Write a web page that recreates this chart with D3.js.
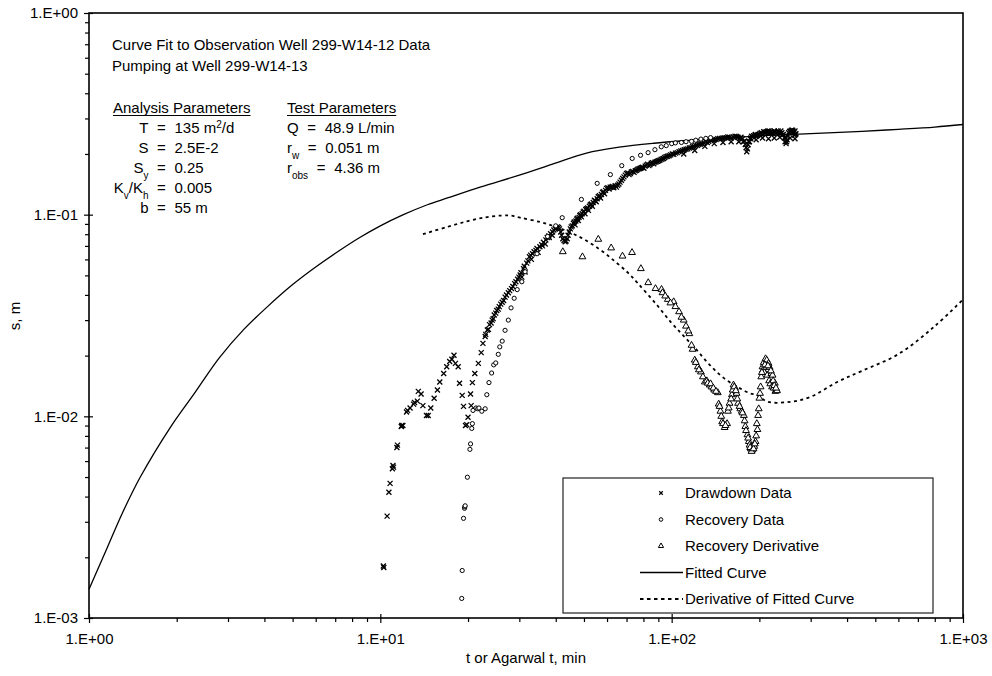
<!DOCTYPE html>
<html><head><meta charset="utf-8">
<script src="https://cdn.jsdelivr.net/npm/d3@7"></script>
<style>
body{margin:0;background:#fff;}
svg text{font-family:Arial,"Liberation Sans",sans-serif;font-size:15px;fill:#000;}
</style>
</head><body>
<svg id="c" width="992" height="676"></svg>
<script>
// ---------- data ----------
const xTickValues = [1, 10, 100, 1000];
const xTickLabels = ["1.E+00", "1.E+01", "1.E+02", "1.E+03"];
const yTickValues = [0.001, 0.01, 0.1, 1];
const yTickLabels = ["1.E-03", "1.E-02", "1.E-01", "1.E+00"];

// drawdown data (early part + main band)
const drawdownT = [10.24,10.28,10.55,10.7,10.8,11.0,11.05,11.1,11.4,11.45,11.8,11.85,11.95,12.3,12.4,12.65,13.0,13.1,13.4,13.5,13.8,14.0,14.4,14.6,14.9,15.3,15.7,16.0,16.5,16.9,17.3,17.6,17.9,18.1,18.5,18.7,19.1,19.3,19.6,19.8,20.0,20.4,20.5,20.7,21.1,21.7,22.2,22.5,22.9,23.3,23.7,24.2,24.6,25.1,25.6,26.2,26.8,27.5,28.2,28.9,29.6,30.2,30.6,31.0,31.4,31.8,32.5,33.0,33.3,34.2,34.8,35.3,36.3,36.8,37.4,38.4,38.9,39.4,40.2,40.9,41.6,42.3,43.1,43.8,44.5,45.2,46.0,46.6,47.2,47.8,48.4,49.0,49.7,50.4,51.1,51.8,52.6,53.4,54.3,55.1,56.0,57.0,57.9,58.8,59.8,61.0,62.1,63.3,64.6,65.9,67.2,68.6,70.0,71.4,72.8,74.3,75.8,77.3,78.8,80.3,81.9,83.5,85.1,86.8,88.5,90.2,92.0,93.8,95.7,98.0,100.5,103,106,109,112,115,118,121,124,127,131,134,138,142,146,150,154,158,163,167,172,175,178,180,181,182,183,186,188,190,193,195,198,200,203,205,208,211,214,217,220,223,226,229,232,236,239,242,245,247,249,252,255,257,260,262,264,266,110,120,130,140,150,160,170,185,195,205,215,225,235,245,255,265];
const drawdownS = [.00181,.00178,.0032,.0042,.00465,.0055,.0057,.0056,.0070,.0072,.0089,.0090,.0090,.0105,.0107,.0110,.0115,.0117,.0119,.0133,.0129,.0113,.0101,.0101,.0110,.0123,.0135,.0148,.0163,.0176,.0187,.0192,.0201,.0183,.0176,.0146,.0127,.0112,.0090,.0091,.0099,.0129,.0113,.0147,.0163,.0183,.0207,.0230,.0249,.0268,.0285,.0300,.0318,.0335,.0350,.0368,.0390,.0410,.0430,.0455,.0478,.0502,.0490,.0540,.0520,.0575,.0618,.0600,.0640,.0665,.0650,.0693,.0730,.0715,.0770,.0805,.0790,.0839,.0855,.0864,.0820,.0760,.0734,.0760,.0820,.0870,.0906,.0890,.0950,.0935,.0990,.0975,.1030,.1010,.1070,.1050,.1120,.1100,.1180,.1160,.1227,.1210,.1290,.1270,.1350,.1340,.1370,.1360,.1370,.1420,.1480,.1540,.1600,.1580,.1630,.1620,.1660,.1690,.1710,.1700,.1760,.1750,.1800,.1790,.1830,.1850,.1880,.1900,.1940,.1960,.2000,.2020,.2050,.2080,.2110,.2140,.2170,.2200,.2230,.2250,.2300,.2310,.2350,.2360,.2390,.2400,.2410,.2420,.2420,.2440,.2400,.2380,.2320,.2150,.2050,.2120,.2220,.2380,.2450,.2430,.2480,.2450,.2500,.2500,.2550,.2520,.2560,.2580,.2600,.2550,.2570,.2530,.2580,.2560,.2600,.2520,.2550,.2500,.2300,.2250,.2350,.2550,.2600,.2580,.2620,.2550,.2480,.2500,.2000,.2080,.2180,.2250,.2280,.2300,.2300,.2300,.2350,.2400,.2380,.2400,.2420,.2420,.2400,.2380];
// drawdown data (additional readings inside the dense band)
const drawdownT2 = [23.0,23.5,24.0,24.4,24.9,25.4,25.9,26.5,27.1,27.8,28.5,29.2,29.9,30.4,31.2,32.1,32.8,33.7,34.5,35.8,36.0,37.0,37.9,38.0,39.0,39.8,40.5,41.2,41.9,42.7,43.4,44.1,44.9,45.6,46.3,46.9,47.5,48.1,48.7,49.3,50.0,50.7,51.5,52.2,53.0,53.8,54.7,55.5,56.5,57.4,58.3,59.3,60.4,61.5,62.7,64.0,65.2,66.5,67.9,69.3,70.7,72.1,73.5,75.0,76.5,78.0,79.5,81.1,82.7,84.3,86.0,87.6,89.3,91.1,92.9,94.7,96.8,99.2,101.7,104.5,107.5,110.5,113.5,116.5,119.5,122.5,125.5,129,132.5,136,140,144,148,152,156,160,165,169,173,176,179,184,187,191,194,197,201,204,207,210,213,216,219,222,225,228,231,234,237,240,244,248,251,254,258,261,263,265,267];
const drawdownS2 = [.0255,.0270,.0290,.0305,.0325,.0340,.0360,.0375,.0400,.0420,.0440,.0465,.0490,.0515,.0555,.0590,.0630,.0655,.0680,.0710,.0700,.0750,.0785,.0770,.0820,.0850,.0870,.0850,.0790,.0745,.0740,.0790,.0850,.0880,.0920,.0930,.0960,.0970,.1000,.1010,.1040,.1060,.1080,.1100,.1130,.1150,.1170,.1200,.1240,.1260,.1300,.1320,.1360,.1370,.1380,.1390,.1400,.1450,.1510,.1570,.1610,.1600,.1640,.1650,.1680,.1700,.1720,.1740,.1780,.1770,.1810,.1820,.1840,.1860,.1890,.1920,.1950,.1980,.1990,.2030,.2070,.2100,.2120,.2150,.2180,.2210,.2240,.2270,.2280,.2330,.2350,.2380,.2390,.2400,.2430,.2400,.2450,.2420,.2420,.2300,.2230,.2300,.2400,.2460,.2500,.2470,.2530,.2500,.2580,.2550,.2570,.2600,.2540,.2560,.2600,.2540,.2580,.2550,.2600,.2480,.2400,.2300,.2450,.2580,.2620,.2590,.2560,.2600,.2520];

const recoveryT = [19.03,19.1,19.3,19.45,19.5,19.55,19.9,20.3,20.4,20.6,20.7,20.8,21.3,21.6,21.8,22.3,22.9,23.2,23.6,24.1,24.5,24.9,25.4,25.7,26.2,26.8,27.5,28.1,28.8,29.5,30.6,31.4,34.5,37.5,40.0,42.1,49.0,55.5,61.6,67.4,73.2,78.2,83.0,87.6,92.1,95.8,100,103,108,112,117,121,126,131,136];
const recoveryS = [.00125,.00172,.00312,.0035,.00356,.0036,.00499,.00686,.0073,.00871,.0092,.0107,.0110,.0109,.0110,.0106,.0109,.0128,.0147,.0164,.0180,.0184,.0203,.0221,.0236,.0267,.0300,.0345,.0385,.0425,.0465,.0521,.0640,.0780,.0880,.0966,.119,.143,.158,.175,.190,.197,.203,.210,.217,.220,.225,.227,.228,.230,.231,.234,.237,.239,.241];

const derivT = [42.3,49.4,56.0,62.0,67.8,73.1,78.4,83.1,88,92.3,97,101.6,106,110,115,118,120,123,126,130,132,135,137,140,144,145,147,149,152,155,156,158,161,163,165,167,169,172,174,177,179,182,184,187,189,190,192,194,197,198,199,200,202,203,205,206,207,208,210,211,212,213,215,216,217,218,220,221,222,224,226,227,229,230];
const derivS = [.0655,.0618,.0755,.0684,.0623,.0649,.054,.046,.043,.0426,.038,.037,.033,.030,.0257,.0215,.019,.0176,.0166,.0148,.0150,.0143,.0140,.0135,.0131,.0115,.0106,.0094,.0088,.0092,.0106,.0116,.0128,.0143,.0138,.0130,.0116,.0109,.0106,.0101,.0089,.0081,.0075,.0069,.0068,.0070,.0071,.0075,.0086,.0101,.0109,.0123,.0140,.0157,.0176,.0170,.0185,.0165,.0193,.0175,.0190,.0160,.0183,.0150,.0175,.0145,.0163,.0140,.0160,.0138,.0146,.0133,.0135,.0134];
const derivT2 = [93,95,99,103,108,112,114,117,121,124,128,133,136,139,142,146,148,150,153,157,160,162,164,166,168,171,175,178,180,183,185,186,188,191,193,195,196,201,204,209,214,219,223,225,228];
const derivS2 = [.041,.0395,.0365,.035,.031,.028,.0265,.0225,.0185,.017,.0157,.0146,.0145,.0138,.0133,.0112,.0100,.0092,.0090,.0110,.0122,.0135,.0140,.0134,.0122,.0112,.0104,.0095,.0085,.0078,.0072,.0070,.0067,.0069,.0073,.0080,.0092,.0130,.0165,.0180,.0178,.0168,.0150,.0142,.0138];

const fitT = [1,1.15,1.3,1.5,1.9,2.3,2.8,3.4,4.1,5.0,6.0,7.2,8.5,10,12,14.5,17,22,30,39,51,66,87,112,150,200,300,450,600,800,1000];
const fitS = [.00139,.0022,.0033,.0050,.0088,.013,.0195,.027,.035,.045,.055,.066,.077,.088,.100,.112,.121,.137,.157,.178,.202,.216,.226,.233,.240,.246,.252,.259,.265,.272,.280];

const fitDerivT = [14,17,20,23,26,28,30.2,35.3,40.1,48.3,56.7,63.9,71,76.6,88.5,100,110,122,135,150,171,186,196,214,255,300,370,450,602,800,1000];
const fitDerivS = [.080,.087,.093,.097,.099,.099,.0966,.092,.087,.0776,.0672,.0586,.0513,.0456,.036,.029,.025,.0213,.018,.0156,.0138,.013,.01275,.0118,.0118,.0125,.0148,.0168,.0204,.028,.038];

const legendLabels = ["Drawdown Data","Recovery Data","Recovery Derivative","Fitted Curve","Derivative of Fitted Curve"];

// ---------- chart ----------
const svg = d3.select("#c");
const L = 89, R = 963, T = 13, B = 618;
const x = d3.scaleLog().domain([1, 1000]).range([L, R]);
const y = d3.scaleLog().domain([0.001, 1]).range([B, T]);

const xMinor = [], yMinor = [];
[1, 10, 100].forEach(d => { for (let k = 2; k <= 9; k++) xMinor.push(d * k); });
[0.001, 0.01, 0.1].forEach(d => { for (let k = 2; k <= 9; k++) yMinor.push(d * k); });

function clean(g){ g.select(".domain").remove(); g.selectAll("line").attr("stroke","#000").attr("stroke-width",1.2); g.selectAll("text").attr("font-size",15).attr("font-family","Arial, 'Liberation Sans', sans-serif"); }

svg.append("g").attr("transform",`translate(0,${B})`)
  .call(d3.axisBottom(x).tickValues(xTickValues).tickFormat((d,i)=>xTickLabels[i]).tickSize(5).tickPadding(10)).call(clean);
svg.append("g").attr("transform",`translate(0,${B})`)
  .call(d3.axisTop(x).tickValues(xTickValues).tickFormat("").tickSize(4)).call(clean);
svg.append("g").attr("transform",`translate(0,${B})`)
  .call(d3.axisBottom(x).tickValues(xMinor).tickFormat("").tickSize(4)).call(clean);

svg.append("g").attr("transform",`translate(${L},0)`)
  .call(d3.axisLeft(y).tickValues(yTickValues).tickFormat((d,i)=>yTickLabels[i]).tickSize(5).tickPadding(6)).call(clean);
svg.append("g").attr("transform",`translate(${L},0)`)
  .call(d3.axisRight(y).tickValues(yTickValues).tickFormat("").tickSize(4)).call(clean);
svg.append("g").attr("transform",`translate(${L},0)`)
  .call(d3.axisLeft(y).tickValues(yMinor).tickFormat("").tickSize(4)).call(clean);

// curves
const line = d3.line().x(d=>x(d[0])).y(d=>y(d[1])).curve(d3.curveCatmullRom.alpha(0.5));
svg.append("path").attr("d", line(fitT.map((t,i)=>[t,fitS[i]])))
  .attr("fill","none").attr("stroke","#000").attr("stroke-width",1.3);
svg.append("path").attr("d", line(fitDerivT.map((t,i)=>[t,fitDerivS[i]])))
  .attr("fill","none").attr("stroke","#000").attr("stroke-width",1.8).attr("stroke-dasharray","3,3.5");

// markers
const cross = d3.symbol().type(d3.symbolX).size(18);
const tri = d3.symbol().type(d3.symbolTriangle).size(20);
const ddPts = drawdownT.map((t,i)=>[t,drawdownS[i]]).concat(drawdownT2.map((t,i)=>[t,drawdownS2[i]]));
const dvPts = derivT.map((t,i)=>[t,derivS[i]]).concat(derivT2.map((t,i)=>[t,derivS2[i]]));
svg.append("g").selectAll("path").data(ddPts).join("path")
  .attr("d", cross).attr("transform", d=>`translate(${x(d[0])},${y(d[1])})`)
  .attr("fill","none").attr("stroke","#000").attr("stroke-width",1.3);
svg.append("g").selectAll("circle").data(recoveryT.map((t,i)=>[t,recoveryS[i]])).join("circle")
  .attr("cx", d=>x(d[0])).attr("cy", d=>y(d[1])).attr("r",2.1)
  .attr("fill","#fff").attr("stroke","#000").attr("stroke-width",1);
svg.append("g").selectAll("path").data(dvPts).join("path")
  .attr("d", tri).attr("transform", d=>`translate(${x(d[0])},${y(d[1])})`)
  .attr("fill","#fff").attr("stroke","#000").attr("stroke-width",1);

// frame
svg.append("rect").attr("x",L).attr("y",T).attr("width",R-L).attr("height",B-T)
  .attr("fill","none").attr("stroke","#000").attr("stroke-width",1.6);

// legend
const lg = svg.append("g");
lg.append("rect").attr("x",563).attr("y",478).attr("width",370).attr("height",135)
  .attr("fill","#fff").attr("stroke","#222").attr("stroke-width",1.2);
const rowY = [493, 519.5, 546, 572.5, 599];
legendLabels.forEach((lab,i)=>{
  lg.append("text").attr("x",685).attr("y",rowY[i]+5).text(lab);
});
lg.append("path").attr("d", d3.symbol().type(d3.symbolX).size(10)).attr("transform",`translate(661,${rowY[0]})`)
  .attr("fill","none").attr("stroke","#000").attr("stroke-width",1.2);
lg.append("circle").attr("cx",661).attr("cy",rowY[1]).attr("r",1.8).attr("fill","#fff").attr("stroke","#000");
lg.append("path").attr("d", d3.symbol().type(d3.symbolTriangle).size(12)).attr("transform",`translate(661,${rowY[2]})`)
  .attr("fill","#fff").attr("stroke","#000");
lg.append("line").attr("x1",640).attr("x2",683).attr("y1",rowY[3]).attr("y2",rowY[3]).attr("stroke","#000").attr("stroke-width",1.3);
lg.append("line").attr("x1",640).attr("x2",683).attr("y1",rowY[4]).attr("y2",rowY[4]).attr("stroke","#000").attr("stroke-width",1.8).attr("stroke-dasharray","3.5,3.5");

// axis titles
svg.append("text").attr("x",(L+R)/2).attr("y",663).attr("text-anchor","middle").text("t or Agarwal t, min");
svg.append("text").attr("transform","translate(20,316) rotate(-90)").attr("text-anchor","middle").text("s, m");

// annotations
const ann = svg.append("g");
function txt(xp, yp, parts, anchor){
  const t = ann.append("text").attr("x",xp).attr("y",yp).attr("text-anchor",anchor||"start");
  parts.forEach(p=>{
    if (typeof p === "string") t.append("tspan").text(p);
    else t.append("tspan").attr("font-size",10).attr("baseline-shift", p.sup ? "super" : "sub").text(p.t);
  });
  return t;
}
txt(112, 50, ["Curve Fit to Observation Well 299-W14-12 Data"]);
txt(112, 71, ["Pumping at Well 299-W14-13"]);
const h1 = txt(113, 113, ["Analysis Parameters"]);
const h2 = txt(287, 113, ["Test Parameters"]);
[h1,h2].forEach(h=>{
  const bb = h.node().getBBox();
  ann.append("line").attr("x1",bb.x).attr("x2",bb.x+bb.width).attr("y1",115.5).attr("y2",115.5).attr("stroke","#000").attr("stroke-width",1.1);
});
const rows = [133, 153, 173, 193, 213];
const eqX = 157, leftEnd = 148.5, valX = 174.5;
txt(leftEnd, rows[0], ["T"], "end"); txt(eqX, rows[0], ["="]); txt(valX, rows[0], ["135 m", {t:"2",sup:true}, "/d"]);
txt(leftEnd, rows[1], ["S"], "end"); txt(eqX, rows[1], ["="]); txt(valX, rows[1], ["2.5E-2"]);
txt(leftEnd, rows[2], ["S", {t:"y"}], "end"); txt(eqX, rows[2], ["="]); txt(valX, rows[2], ["0.25"]);
txt(leftEnd, rows[3], ["K", {t:"v"}, "/K", {t:"h"}], "end"); txt(eqX, rows[3], ["="]); txt(valX, rows[3], ["0.005"]);
txt(leftEnd, rows[4], ["b"], "end"); txt(eqX, rows[4], ["="]); txt(valX, rows[4], ["55 m"]);
// test parameters: label, then "=" and value spaced after it
function param(yp, labelParts, value){
  const lab = txt(287, yp, labelParts);
  const w = lab.node().getComputedTextLength();
  const ex = 287 + w + 8.6;
  txt(ex, yp, ["="]);
  txt(ex + 8.8 + 8.6, yp, [value]);
}
param(rows[0], ["Q"], "48.9 L/min");
param(rows[1], ["r", {t:"w"}], "0.051 m");
param(rows[2], ["r", {t:"obs"}], "4.36 m");
</script>
</body></html>
